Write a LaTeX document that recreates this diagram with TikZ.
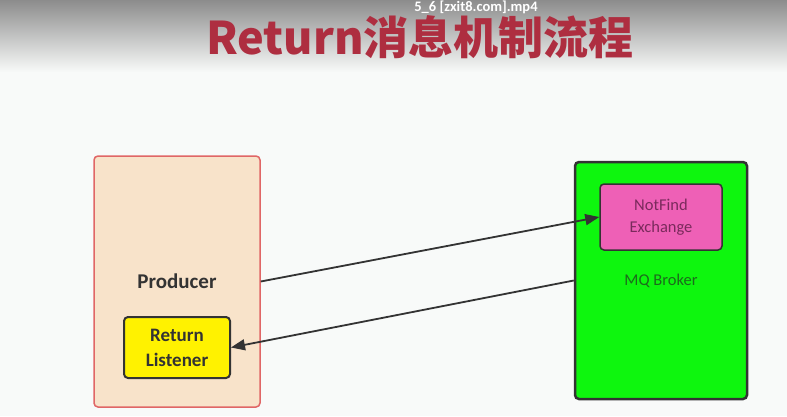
\documentclass[tikz,border=0pt]{standalone}
\usepackage{fontspec}
\setmainfont{Carlito}
\newfontfamily\cjkfont{Noto Sans CJK SC}
\usetikzlibrary{arrows.meta}

\definecolor{titlered}{HTML}{AE2E40}
\definecolor{pagewhite}{HTML}{F8FAF9}
\definecolor{prodfill}{HTML}{F8E3CA}
\definecolor{prodline}{HTML}{E06666}
\definecolor{brokergreen}{HTML}{0EF60E}
\definecolor{brokertext}{HTML}{1C6B1C}
\definecolor{exfill}{HTML}{EE60B6}
\definecolor{extext}{HTML}{7A2A5C}
\definecolor{darkline}{HTML}{333333}

\begin{document}
\begin{tikzpicture}[x=1pt, y=-1pt,
    box/.style={draw, rounded corners=4pt, align=center, inner sep=0pt},
    flow/.style={draw=darkline, line width=1.8pt, -{Triangle[length=14pt, width=11pt]}}]
  \useasboundingbox (0,0) rectangle (787,416);
  \fill[pagewhite] (0,0) rectangle (787,416);
  \shade[top color=black!45, bottom color=pagewhite] (0,0) rectangle (787,72);

  % title and video name
  \node[anchor=base, inner sep=0pt, text=white, font=\bfseries\fontsize{14.5}{14.5}\selectfont] (file) at (476,11) {5\_6 [zxit8.com].mp4};
  \node[anchor=base, inner sep=0pt, text=titlered, font=\cjkfont\bfseries\fontsize{45}{45}\selectfont] (title) at (420,54) {Return消息机制流程};

  % producer side
  \node[box, draw=prodline, line width=1.5pt, fill=prodfill, minimum width=166pt, minimum height=251pt,
        text=darkline, font=\bfseries\fontsize{21}{21}\selectfont] (producer) at (177,281.5) {\raisebox{-2pt}{Producer}};
  \node[box, draw=darkline, line width=2pt, fill=yellow, minimum width=106pt, minimum height=61pt,
        text=darkline, font=\bfseries\fontsize{19}{25}\selectfont] (listener) at (177,347.5) {Return\\Listener};

  % broker side
  \node[box, draw=darkline, line width=2.5pt, fill=brokergreen, minimum width=172pt, minimum height=237pt,
        text=brokertext, font=\fontsize{16.5}{16.5}\selectfont] (broker) at (661,280.5) {\raisebox{-3pt}{MQ Broker}};
  \node[box, draw=darkline, line width=1.5pt, fill=exfill, minimum width=122pt, minimum height=66pt,
        text=extext, font=\fontsize{16.5}{22}\selectfont] (exchange) at (661,217) {NotFind\\Exchange};

  \draw[flow] (producer.east) -- (exchange.west);
  \draw[flow] (broker.west) -- (listener.east);
\end{tikzpicture}
\end{document}
